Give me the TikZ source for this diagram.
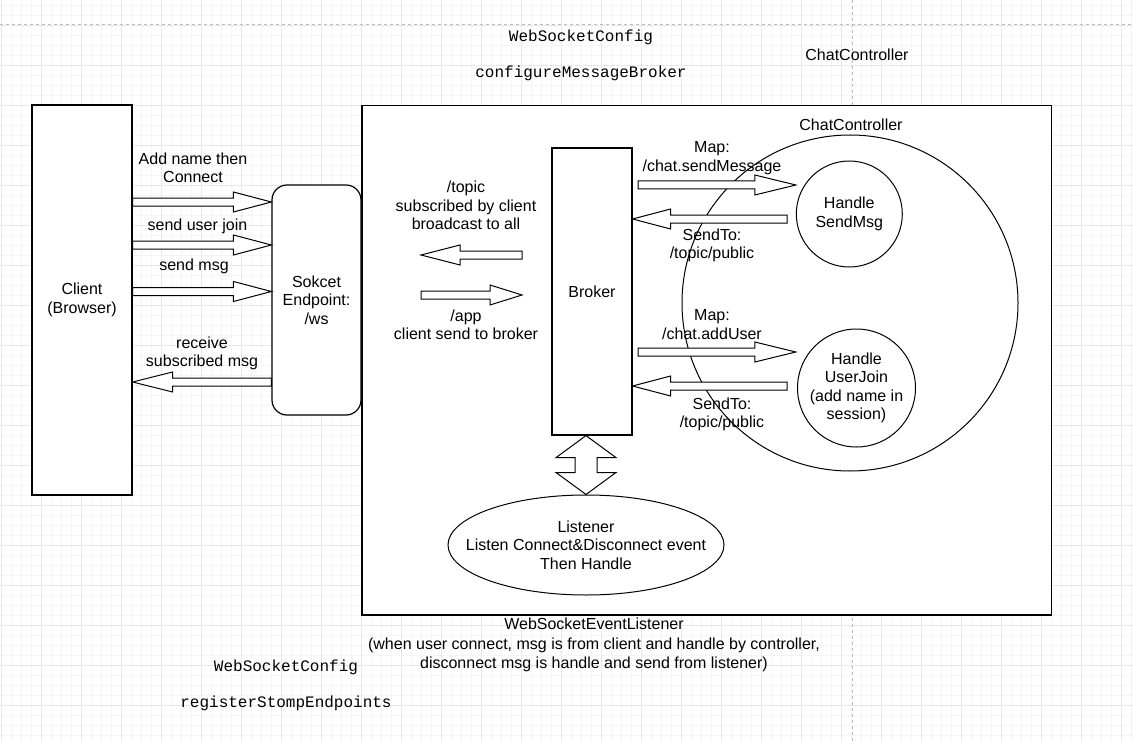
\documentclass[tikz,border=0pt]{standalone}
\usepackage{fontspec}
\setmainfont{Liberation Sans}
\setmonofont{Liberation Mono}
\usetikzlibrary{calc, shapes.geometric, positioning}
\definecolor{gridmin}{HTML}{F5F5F5}
\definecolor{gridmaj}{HTML}{E8E8E8}
\definecolor{pageline}{HTML}{BDBDBD}

\begin{document}
\begin{tikzpicture}[x=1pt, y=-1pt, line width=1pt,
  font=\fontsize{16}{18.5}\selectfont,
  box/.style={draw, fill=white, line width=1.2pt, inner sep=0pt, align=center},
  lbl/.style={align=center, inner sep=0pt},
  code/.style={inner sep=0pt, font=\ttfamily\fontsize{16}{18.5}\selectfont},
  flex/.style={draw, fill=white, to path={
    ($(\tikztostart)!4pt!90:(\tikztotarget)$)
    -- ($(\tikztotarget)!#1pt!(\tikztostart)!4pt!-90:(\tikztostart)$)
    -- ($(\tikztotarget)!#1pt!(\tikztostart)!10pt!-90:(\tikztostart)$)
    -- (\tikztotarget)
    -- ($(\tikztotarget)!#1pt!(\tikztostart)!10pt!90:(\tikztostart)$)
    -- ($(\tikztotarget)!#1pt!(\tikztostart)!4pt!90:(\tikztostart)$)
    -- ($(\tikztostart)!4pt!-90:(\tikztotarget)$) -- cycle}},
  flex/.default=38,
  dbl/.style={draw, fill=white, to path={
    (\tikztostart)
    -- ($(\tikztostart)!22pt!(\tikztotarget)!30pt!90:(\tikztotarget)$)
    -- ($(\tikztostart)!22pt!(\tikztotarget)!11pt!90:(\tikztotarget)$)
    -- ($(\tikztotarget)!22pt!(\tikztostart)!11pt!-90:(\tikztostart)$)
    -- ($(\tikztotarget)!22pt!(\tikztostart)!30pt!-90:(\tikztostart)$)
    -- (\tikztotarget)
    -- ($(\tikztotarget)!22pt!(\tikztostart)!30pt!90:(\tikztostart)$)
    -- ($(\tikztotarget)!22pt!(\tikztostart)!11pt!90:(\tikztostart)$)
    -- ($(\tikztostart)!22pt!(\tikztotarget)!11pt!-90:(\tikztotarget)$)
    -- ($(\tikztostart)!22pt!(\tikztotarget)!30pt!-90:(\tikztotarget)$) -- cycle}}]

\useasboundingbox (0,0) rectangle (1133,741);
\fill[white] (0,0) rectangle (1133,741);
\begin{scope}
\clip (0,0) rectangle (1133,741);
\draw[gridmin, line width=0.8pt, shift={(1.7,5.7)}, step=10pt] (-20,-20) grid (1150,760);
\draw[gridmaj, line width=0.8pt, shift={(1.7,25.7)}, step=40pt] (-40,-40) grid (1180,760);
\draw[pageline, dash pattern=on 3pt off 3pt] (0,25) -- (1133,25);
\draw[pageline, dash pattern=on 3pt off 3pt] (852,0) -- (852,741);
\end{scope}

% outer frame and its controller
\node[box, minimum width=689.7, minimum height=509.3] (frame) at (706.85,360.35) {};
\node[draw, circle, minimum size=336, inner sep=0pt] (ctrl) at (850,303) {};
\node[lbl] (ctrlin) at (851,125) {ChatController};

\node[box, minimum width=100, minimum height=390] (client) at (82,300) {Client\\(Browser)};
\node[box, rounded corners=15pt, minimum width=89, minimum height=230] (sock) at (316.5,300) {Sokcet\\Endpoint:\\/ws};
\node[box, minimum width=80, minimum height=287] (broker) at (592,291.5) {Broker};
\node[draw, circle, fill=white, minimum size=106, inner sep=0pt, align=center] (sendmsg) at (849.3,214) {Handle\\SendMsg};
\node[draw, circle, fill=white, minimum size=118, inner sep=0pt, align=center] (userjoin) at (856.5,388) {Handle\\UserJoin\\(add name in\\session)};
\node[draw, ellipse, fill=white, minimum width=276, minimum height=100, inner sep=0pt] (listener) at (586,545) {};
\node[lbl] (listenertxt) at (listener.center) {Listener\\Listen Connect\&Disconnect event\\Then Handle};

% client <-> endpoint
\draw[flex] (client.east |- 0,202) to (sock.west |- 0,202);
\draw[flex] (client.east |- 0,245) to (sock.west |- 0,245);
\draw[flex] (client.east |- 0,291.5) to (sock.west |- 0,291.5);
\draw[flex=40] (sock.west |- 0,382) to (client.east |- 0,382);
\node[lbl] (lconn) at (193,168) {Add name then\\Connect};
\node[lbl] (ljoin) at (197.5,226) {send user join};
\node[lbl] (lmsg) at (194,266) {send msg};
\node[lbl] (lrecv) at (202,353.5) {receive\\subscribed msg};

% endpoint <-> broker
\coordinate (topicR) at (522,255);
\coordinate (topicL) at (421,255);
\coordinate (appL) at (421,295);
\coordinate (appR) at (522,295);
\draw[flex=39] (topicR) to (topicL);
\draw[flex=32] (appL) to (appR);
\node[lbl] (ltopic) at (466,205.5) {/topic\\subscribed by client\\broadcast to all};
\node[lbl] (lapp) at (466,325) {/app\\client send to broker};

% broker <-> controller
\coordinate (mapA) at (638,185);
\coordinate (backA) at (787,219);
\coordinate (mapB) at (638,352);
\coordinate (backB) at (787,386);
\draw[flex=41] (mapA) to (sendmsg.west |- mapA);
\draw[flex] (backA) to (broker.east |- backA);
\draw[flex=41] (mapB) to (sendmsg.west |- mapB);
\draw[flex] (backB) to (broker.east |- backB);
\node[lbl] (lmapA) at (712,158.3) {Map:\\/chat.sendMessage};
\node[lbl] (lsendA) at (712,245.5) {SendTo:\\/topic/public};
\node[lbl] (lmapB) at (712,324.7) {Map:\\/chat.addUser};
\node[lbl] (lsendB) at (722,414.5) {SendTo:\\/topic/public};

% broker <-> listener
\draw[dbl] (listener.north |- broker.south) to (listener.north);

\node[code] (cfgtop) at (581,37) {WebSocketConfig};
\node[code] (cfgbroker) at (581,73) {configureMessageBroker};
\node[lbl] (ctrltop) at (857,55) {ChatController};
\node[lbl, font=\fontsize{16}{19.5}\selectfont] (lsnr) at (594,645)
  {WebSocketEventListener\\(when user connect, msg is from client and handle by controller,\\disconnect msg is handle and send from listener)};
\node[code] (cfgbot) at (286,667) {WebSocketConfig};
\node[code] (cfgstomp) at (286,703) {registerStompEndpoints};
\end{tikzpicture}
\end{document}
